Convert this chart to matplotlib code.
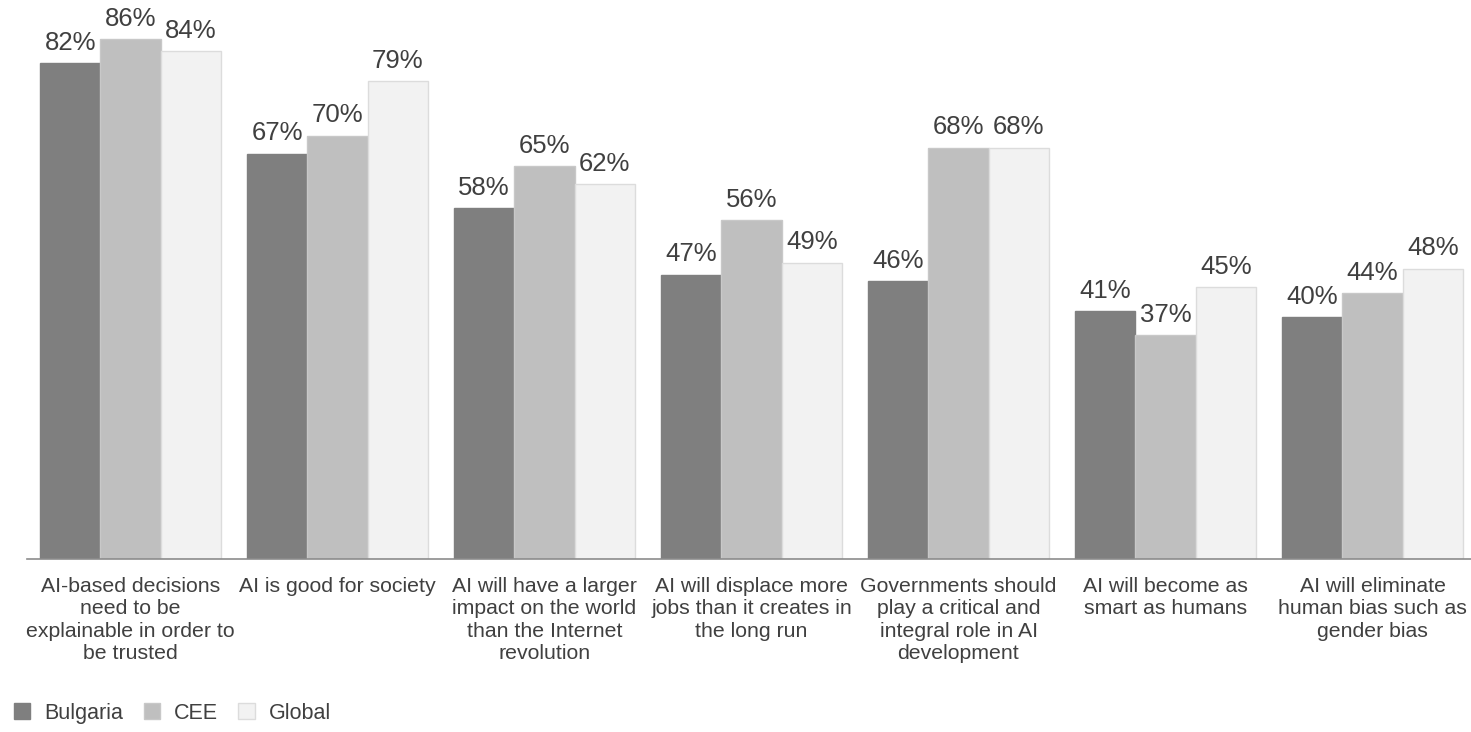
import matplotlib
matplotlib.use("Agg")
import matplotlib.pyplot as plt
import numpy as np
from matplotlib.patches import Patch

plt.rcParams['font.family'] = ['Liberation Sans', 'DejaVu Sans']

categories = [
    "AI-based decisions\nneed to be\nexplainable in order to\nbe trusted",
    "AI is good for society",
    "AI will have a larger\nimpact on the world\nthan the Internet\nrevolution",
    "AI will displace more\njobs than it creates in\nthe long run",
    "Governments should\nplay a critical and\nintegral role in AI\ndevelopment",
    "AI will become as\nsmart as humans",
    "AI will eliminate\nhuman bias such as\ngender bias",
]
series_names = ["Bulgaria", "CEE", "Global"]
bulgaria = [82, 67, 58, 47, 46, 41, 40]
cee = [86, 70, 65, 56, 68, 37, 44]
global_ = [84, 79, 62, 49, 68, 45, 48]

colors = ["#7f7f7f", "#bfbfbf", "#f2f2f2"]
edges = ["#7f7f7f", "#c8c8c8", "#dcdcdc"]
text_color = "#404040"

W, H = 1471, 732
fig = plt.figure(figsize=(W / 100, H / 100), dpi=100)
left_px, right_px, base_px = 27, 1476, 559
ax = fig.add_axes([left_px / W, (H - base_px) / H, (right_px - left_px) / W, base_px / H])

x = np.arange(len(categories))
bw = 0.2915
for i, (vals, c, e) in enumerate(zip([bulgaria, cee, global_], colors, edges)):
    pos = x + (i - 1) * bw
    ax.bar(pos, vals, width=bw, color=c, edgecolor=e, linewidth=1.0, zorder=2)
    for p, v in zip(pos, vals):
        ax.text(p, v + 1.35, f"{v}%", ha="center", va="bottom", fontsize=18.5, color=text_color)

ax.set_xlim(-0.5, len(categories) - 0.5)
ax.set_ylim(0, 92.4)
for s in ["top", "right", "left"]:
    ax.spines[s].set_visible(False)
ax.spines["bottom"].set_color("#8c8c8c")
ax.spines["bottom"].set_linewidth(1.2)
ax.set_yticks([])
ax.set_xticks(x)
ax.set_xticklabels(categories, fontsize=15.3, color=text_color, linespacing=1.22, va="top")
ax.tick_params(axis="x", length=0, pad=13)

handles = [Patch(facecolor=c, edgecolor=e, label=n) for c, e, n in zip(colors, edges, series_names)]
leg = fig.legend(handles=handles, loc="lower left", bbox_to_anchor=(10 / W, 4 / H), ncol=3,
                 frameon=False, fontsize=15.5, handlelength=0.75, handleheight=0.75,
                 handletextpad=0.65, columnspacing=0.95, borderpad=0.2, borderaxespad=0)
for t in leg.get_texts():
    t.set_color(text_color)

fig.savefig("out.png", dpi=100)
